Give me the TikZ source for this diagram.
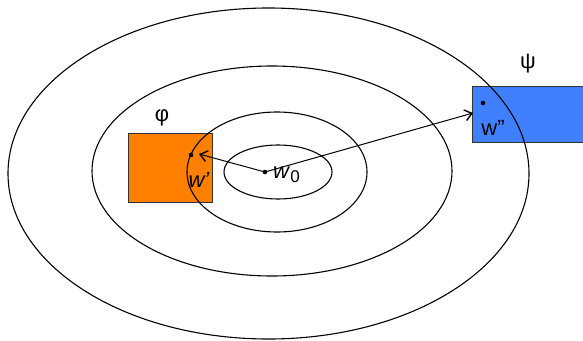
\documentclass[tikz,border=0pt]{standalone}
\usepackage{fontspec}
\setmainfont{Liberation Sans}
\usetikzlibrary{arrows.meta}
\definecolor{boxorange}{HTML}{FF8000}
\definecolor{boxblue}{HTML}{4080FF}
\begin{document}
\begin{tikzpicture}[x=1pt,y=-1pt,
  ring/.style={draw=black,line width=1.1pt},
  region/.style={draw=black!80,line width=1pt,anchor=north west,inner sep=0pt},
  pt/.style={circle,fill=black,inner sep=0pt,minimum size=4.6pt},
  lbl/.style={font=\fontsize{22}{26}\selectfont,inner sep=0pt},
  conn/.style={line width=1pt,-{Straight Barb[length=7pt,width=11pt,line width=1.4pt]}}]
\useasboundingbox (0,0) rectangle (583,340);
\node[region,fill=boxorange,minimum width=84pt,minimum height=69pt] (phi) at (128,133) {};
\node[region,fill=boxblue,minimum width=130pt,minimum height=56pt] (psi) at (472,86) {};
\draw[ring] (268.5,173.5) ellipse [x radius=260.5, y radius=165.5];
\draw[ring] (272,171) ellipse [x radius=180, y radius=105];
\draw[ring] (277,172) ellipse [x radius=90, y radius=60];
\draw[ring] (278,172) ellipse [x radius=54, y radius=27];
\node[lbl] (philbl) at (162,118) {φ};
\node[lbl] (psilbl) at (528,64) {ψ};
\node[pt] (w1) at (191,155) {};
\node[pt] (w2) at (483,103) {};
\node[pt] (w0) at (265,172) {};
\coordinate (w1tip) at (199,154);
\coordinate (psitip) at (473,113);
\node[lbl] (w1lbl) at (199,180) {\itshape w’};
\node[lbl] (w2lbl) at (493,128) {w”};
\node[lbl,anchor=west] (w0lbl) at (273,175) {\itshape w\/\upshape\raisebox{-0.3ex}{\fontsize{17}{20}\selectfont 0}};
\draw[conn] (w0.center) -- (w1tip);
\draw[conn] (w0.center) -- (psitip);
\end{tikzpicture}
\end{document}
